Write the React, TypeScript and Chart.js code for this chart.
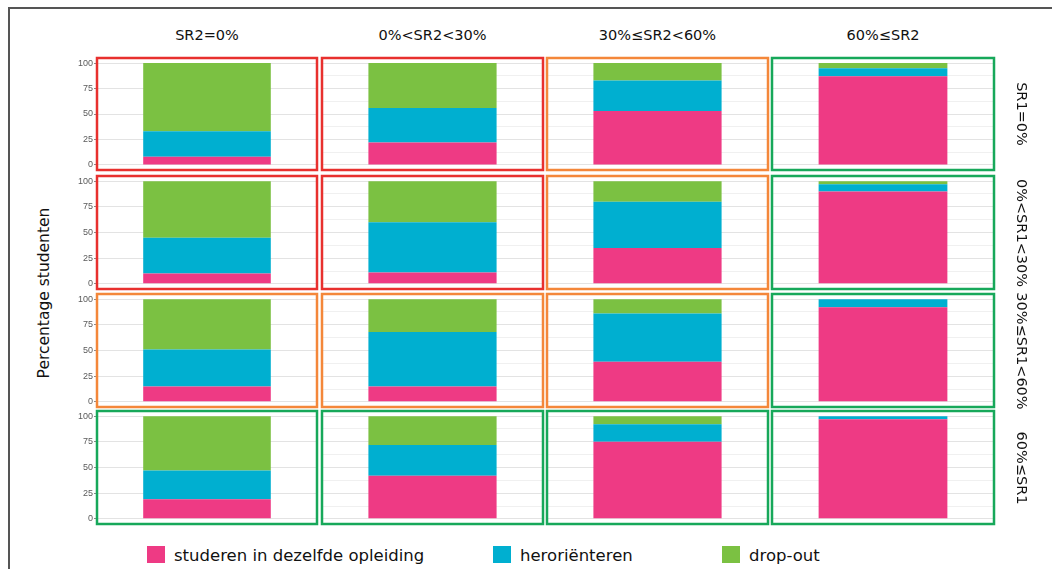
import React, { useEffect, useRef } from "react";
import { Chart, registerables } from "chart.js";

Chart.register(...registerables);

// ---------- data ----------
const colHeaders = ["SR2=0%", "0%<SR2<30%", "30%≤SR2<60%", "60%≤SR2"];
const rowHeaders = ["SR1=0%", "0%<SR1<30%", "30%≤SR1<60%", "60%≤SR1"];
const seriesNames = ["studeren in dezelfde opleiding", "heroriënteren", "drop-out"];
const yTickLabels = [0, 25, 50, 75, 100];

// rows = SR1 classes, columns = SR2 classes (percent of students)
const studeren = [
  [8, 22, 53, 87],
  [10, 11, 35, 90],
  [15, 15, 39, 92],
  [19, 42, 75, 97],
];
const heroriënteren = [
  [25, 34, 30, 8],
  [35, 49, 45, 7],
  [36, 53, 47, 8],
  [28, 30, 17, 3],
];
const dropOut = [
  [67, 44, 17, 5],
  [55, 40, 20, 3],
  [49, 32, 14, 0],
  [53, 28, 8, 0],
];
// frame category per panel: r = red, o = orange, g = green
const frameCategory = [
  ["r", "r", "o", "g"],
  ["r", "r", "o", "g"],
  ["o", "o", "o", "g"],
  ["g", "g", "g", "g"],
];

// ---------- styling / layout ----------
const seriesColors = ["#EE3A84", "#00AFD0", "#7BC142"];
const frameColors: Record<string, string> = { r: "#E8302E", o: "#F4873A", g: "#17A85A" };
const colX = [
  [97, 317],
  [322, 543],
  [547, 768],
  [772, 994],
];
const rowY = [
  [58, 170],
  [176, 289],
  [294, 407],
  [411, 524],
];
const AXW = 40;
const PAD = 2;
const FONT = "'DejaVu Sans', Verdana, sans-serif";
const seriesValues = [studeren, heroriënteren, dropOut];

const gridValues: number[] = [];
for (let i = 0; i < yTickLabels.length; i++) {
  gridValues.push(yTickLabels[i]);
  if (i < yTickLabels.length - 1) gridValues.push((yTickLabels[i] + yTickLabels[i + 1]) / 2);
}

function Panel({ r, c }: { r: number; c: number }) {
  const ref = useRef<HTMLCanvasElement>(null);
  const [x0, x1] = colX[c];
  const [y0, y1] = rowY[r];
  const w = x1 - x0 + AXW + PAD;
  const h = y1 - y0 + 2 * PAD;
  useEffect(() => {
    if (!ref.current) return;
    const color = frameColors[frameCategory[r][c]];
    const chart = new Chart(ref.current, {
      type: "bar",
      data: {
        labels: [""],
        datasets: seriesNames.map((n, i) => ({
          label: n,
          data: [seriesValues[i][r][c]],
          backgroundColor: seriesColors[i],
          borderWidth: 0,
          barPercentage: 0.58,
          categoryPercentage: 1,
        })),
      },
      options: {
        responsive: false,
        animation: false,
        devicePixelRatio: 1,
        layout: { padding: { top: PAD, bottom: PAD, right: PAD, left: 0 } },
        plugins: { legend: { display: false }, tooltip: { enabled: false } },
        scales: {
          x: { display: false, stacked: true },
          y: {
            stacked: true,
            min: -5,
            max: 105,
            afterBuildTicks: (s: any) => {
              s.ticks = gridValues.map((v) => ({ value: v }));
            },
            afterFit: (s: any) => {
              s.width = AXW;
              s.paddingTop = 0;
              s.paddingBottom = 0;
            },
            border: { display: false },
            grid: {
              color: (ctx: any) => (ctx.tick && ctx.tick.value % 25 === 0 ? "#e3e3e3" : "#f0f0f0"),
              lineWidth: 1,
              drawTicks: c === 0,
              tickLength: 3,
              tickColor: (ctx: any) =>
                ctx.tick && ctx.tick.value % 25 === 0 ? "#8a8a8a" : "rgba(0,0,0,0)",
            },
            ticks: {
              display: c === 0,
              padding: 1,
              color: "#5a5a5a",
              font: { family: "'Liberation Sans', Arial, sans-serif", size: 9 },
              callback: (v: any) => (Number(v) % 25 === 0 ? String(v) : ""),
            },
          },
        },
      },
      plugins: [
        {
          id: "frame",
          afterDraw(ch: any) {
            const a = ch.chartArea;
            const g = ch.ctx;
            g.save();
            g.strokeStyle = color;
            g.lineWidth = 2.5;
            g.strokeRect(a.left, a.top, a.right - a.left, a.bottom - a.top);
            g.restore();
          },
        },
      ],
    } as any);
    return () => chart.destroy();
  }, [r, c]);
  return (
    <canvas
      ref={ref}
      width={w}
      height={h}
      style={{ position: "absolute", left: x0 - AXW, top: y0 - PAD, width: w, height: h }}
    />
  );
}

export default function App() {
  const panels: React.ReactNode[] = [];
  for (let r = 0; r < 4; r++) for (let c = 0; c < 4; c++) panels.push(<Panel key={`${r}-${c}`} r={r} c={c} />);
  const legendItems = [
    { sq: 147, tx: 174 },
    { sq: 493, tx: 520 },
    { sq: 722, tx: 749 },
  ];
  return (
    <div
      style={{
        position: "absolute",
        left: 0,
        top: 0,
        width: 1052,
        height: 569,
        background: "#fff",
        overflow: "hidden",
        fontFamily: FONT,
        color: "#111",
      }}
    >
      {/* outer frame lines */}
      <div style={{ position: "absolute", left: 8, top: 7, width: 1044, height: 2, background: "#555" }} />
      <div style={{ position: "absolute", left: 8, top: 7, width: 2, height: 562, background: "#555" }} />

      {panels}

      {colHeaders.map((t, c) => (
        <div
          key={t}
          style={{
            position: "absolute",
            left: colX[c][0],
            width: colX[c][1] - colX[c][0],
            top: 26,
            height: 18,
            lineHeight: "18px",
            fontSize: 14.5,
            textAlign: "center",
            whiteSpace: "nowrap",
          }}
        >
          {t}
        </div>
      ))}

      {rowHeaders.map((t, r) => {
        const cy = (rowY[r][0] + rowY[r][1]) / 2;
        return (
          <div
            key={t}
            style={{
              position: "absolute",
              left: 1022 - 70,
              top: cy - 9,
              width: 140,
              height: 18,
              lineHeight: "18px",
              fontSize: 14.5,
              textAlign: "center",
              whiteSpace: "nowrap",
              transform: "rotate(90deg)",
            }}
          >
            {t}
          </div>
        );
      })}

      <div
        style={{
          position: "absolute",
          left: 44 - 110,
          top: 293 - 10,
          width: 220,
          height: 20,
          lineHeight: "20px",
          fontSize: 15.5,
          textAlign: "center",
          whiteSpace: "nowrap",
          transform: "rotate(-90deg)",
        }}
      >
        Percentage studenten
      </div>

      {legendItems.map((it, i) => (
        <React.Fragment key={i}>
          <div
            style={{
              position: "absolute",
              left: it.sq,
              top: 546,
              width: 18,
              height: 17,
              background: seriesColors[i],
            }}
          />
          <div
            style={{
              position: "absolute",
              left: it.tx,
              top: 546,
              height: 19,
              lineHeight: "19px",
              fontSize: 16.5,
              whiteSpace: "nowrap",
            }}
          >
            {seriesNames[i]}
          </div>
        </React.Fragment>
      ))}
    </div>
  );
}
